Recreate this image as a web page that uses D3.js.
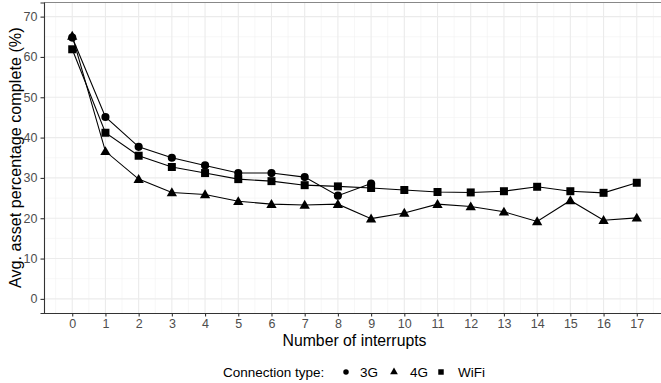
<!DOCTYPE html>
<html><head><meta charset="utf-8">
<script src="https://cdn.jsdelivr.net/npm/d3@7"></script>
<style>body{margin:0;background:#fff}svg{display:block;font-family:"Liberation Sans",Arial,sans-serif}</style>
</head><body>
<svg id="c" width="661" height="383"></svg>
<script>
const interrupts = d3.range(0, 18);
const g3 = [64.8, 45.1, 37.7, 35.0, 33.1, 31.2, 31.2, 30.2, 25.6, 28.6];
const g4 = [65.2, 36.6, 29.7, 26.4, 25.9, 24.2, 23.5, 23.3, 23.5, 19.9, 21.3, 23.5, 22.9, 21.6, 19.2, 24.4, 19.5, 20.1];
const wifi = [61.9, 41.2, 35.5, 32.7, 31.2, 29.7, 29.2, 28.2, 27.9, 27.5, 27.0, 26.5, 26.4, 26.7, 27.8, 26.7, 26.3, 28.8];
const yTicks = [0, 10, 20, 30, 40, 50, 60, 70];
const seriesNames = ["3G", "4G", "WiFi"];
const seriesShapes = [d3.symbolCircle, d3.symbolTriangle, d3.symbolSquare];

const series = [g3, g4, wifi].map((vals, i) => ({name: seriesNames[i], shape: seriesShapes[i], pts: vals.map((v, j) => ({x: interrupts[j], y: v}))}));

const svg = d3.select("#c");
const L = 44, R = 665, T = 2.5, B = 313;
const x = d3.scaleLinear().domain([-0.85, 17.85]).range([L, R]);
const y = d3.scaleLinear().domain([-3.5, 73.5]).range([B, T]);

const grid = svg.append("g");
// minor
d3.range(-0.5, 18, 1).forEach(v => grid.append("line").attr("x1", x(v)).attr("x2", x(v)).attr("y1", T).attr("y2", B).attr("stroke", "#f2f2f2").attr("stroke-width", 0.6));
d3.range(5, 70, 10).forEach(v => grid.append("line").attr("y1", y(v)).attr("y2", y(v)).attr("x1", L).attr("x2", R).attr("stroke", "#f2f2f2").attr("stroke-width", 0.6));
// major
interrupts.forEach(v => grid.append("line").attr("x1", x(v)).attr("x2", x(v)).attr("y1", T).attr("y2", B).attr("stroke", "#ebebeb").attr("stroke-width", 1.1));
yTicks.forEach(v => grid.append("line").attr("y1", y(v)).attr("y2", y(v)).attr("x1", L).attr("x2", R).attr("stroke", "#ebebeb").attr("stroke-width", 1.1));

// top border
svg.append("line").attr("x1", L).attr("x2", R).attr("y1", T).attr("y2", T).attr("stroke", "#888").attr("stroke-width", 1.2);

// axes
const xAxis = svg.append("g").attr("transform", `translate(0,${B})`).call(d3.axisBottom(x).tickValues(interrupts).tickSize(3.5).tickPadding(3).tickFormat(d3.format("d")));
const yAxis = svg.append("g").attr("transform", `translate(${L},0)`).call(d3.axisLeft(y).tickValues(yTicks).tickSize(3.5).tickPadding(3));
[xAxis, yAxis].forEach(a => {
  a.select(".domain").attr("stroke", "#333").attr("stroke-width", 1.1);
  a.selectAll(".tick line").attr("stroke", "#333").attr("stroke-width", 1.1);
  a.selectAll(".tick text").attr("fill", "#4d4d4d").attr("font-size", 12.5).attr("font-family", "Liberation Sans, Arial, sans-serif");
});
xAxis.select(".domain").attr("d", `M${L},0.5H661`);

// lines
const line = d3.line().x(d => x(d.x)).y(d => y(d.y));
series.forEach(s => svg.append("path").attr("d", line(s.pts)).attr("fill", "none").attr("stroke", "#000").attr("stroke-width", 1.1));
// points
const sizes = {"3G": 52, "4G": 46, "WiFi": 64};
series.forEach(s => {
  svg.append("g").selectAll("path").data(s.pts).join("path")
    .attr("transform", d => `translate(${x(d.x)},${y(d.y) + (s.name === "4G" ? 0.8 : 0)})`)
    .attr("d", d3.symbol(s.shape, sizes[s.name])).attr("fill", "#000");
});

// axis titles
svg.append("text").attr("x", (L + R) / 2).attr("y", 346).attr("text-anchor", "middle").attr("font-size", 15.8).attr("fill", "#000").text("Number of interrupts");
svg.append("text").attr("transform", `translate(20.5,${(T + B) / 2}) rotate(-90)`).attr("text-anchor", "middle").attr("font-size", 16.2).attr("fill", "#000").text("Avg. asset percentage complete (%)");

// legend
const lg = svg.append("g").attr("font-size", 13.5).attr("fill", "#000");
lg.append("text").attr("x", 223).attr("y", 377).text("Connection type:");
const legX = [346, 394, 441];
const labX = [360, 410, 458];
const legSizes = {"3G": 24, "4G": 26, "WiFi": 30};
series.forEach((s, i) => {
  lg.append("path").attr("transform", `translate(${legX[i]},${372})`).attr("d", d3.symbol(s.shape, legSizes[s.name])).attr("fill", "#000");
  lg.append("text").attr("x", labX[i]).attr("y", 377).text(s.name);
});
</script>
</body></html>
